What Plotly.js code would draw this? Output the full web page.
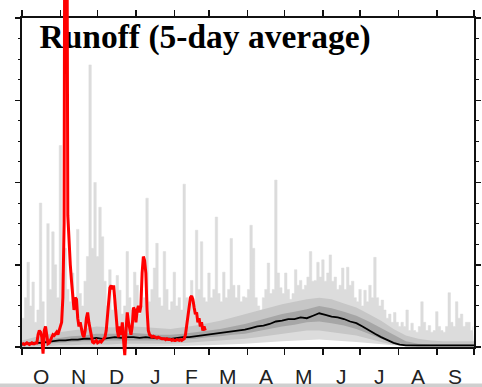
<!DOCTYPE html>
<html><head><meta charset="utf-8">
<script src="https://cdn.plot.ly/plotly-3.0.1.min.js"></script>
<style>html,body{margin:0;padding:0;background:#fff;}#chart{width:482px;height:387px;}</style>
</head><body><div id="chart"></div>
<script>
// ---- data (day index counted from 1 October) ----
const monthStarts = [0,31,61,92,123,151,182,212,243,273,304,335,365];
const monthLabels = ['O','N','D','J','F','M','A','M','J','J','A','S'];
const titleText = 'Runoff (5-day average)';

// daily maximum over all years, sampled every 2 days
const maxStep = 2;
const grayMax = [0.35,0.6,1.03,0.5,0.79,0.3,0.45,1.75,0.55,0.25,
 1.5,0.7,1.4,1.0,0.6,2.45,0.9,1.2,0.7,0.55,
 0.9,0.6,1.43,0.65,0.5,0.8,1.1,3.43,1.2,2.0,
 1.1,1.7,1.34,0.8,0.5,0.94,0.45,0.55,0.87,0.69,
 0.4,0.5,1.16,0.6,0.45,0.91,0.75,0.4,0.5,0.6,
 1.81,0.55,0.7,0.96,1.26,0.6,0.5,1.16,0.7,0.45,
 0.55,0.91,0.5,0.6,0.45,1.98,0.6,0.5,0.81,0.55,
 1.42,0.7,1.28,0.6,0.55,0.9,0.6,0.7,1.58,0.65,
 0.55,0.91,0.6,0.7,1.32,0.75,0.6,0.75,0.55,0.61,
 0.6,0.7,1.48,1.2,0.6,0.5,0.45,0.6,0.7,1.02,
 0.65,0.7,2.03,0.9,0.72,0.65,0.9,0.7,0.58,0.65,
 0.94,0.75,0.81,0.7,0.75,0.85,1.16,0.8,0.81,1.03,
 0.85,1.06,0.8,0.9,1.12,0.8,0.85,0.7,0.75,0.96,
 0.7,0.97,0.75,0.8,0.6,0.55,0.7,0.5,0.69,0.55,
 0.75,0.6,1.09,0.6,0.5,0.57,0.45,0.35,0.4,0.3,
 0.42,0.3,0.25,0.3,0.25,0.45,0.2,0.29,0.2,0.18,
 0.25,0.55,0.3,0.2,0.26,0.18,0.2,0.43,0.25,0.2,
 0.18,0.25,0.66,0.3,0.25,0.55,0.35,0.4,0.25,0.3,
 0.3,0.2,0.25];

// daily minimum over all years
const minDays = [0,30,60,90,120,150,180,210,240,270,300,330,365];
const grayMin = [0,0,0,0,0.01,0.02,0.04,0.07,0.09,0.06,0.02,0,0];

// percentile bands, every 10 days (+ last day)
const bandDays = [0,10,20,30,40,50,60,70,80,90,100,110,120,130,140,150,160,170,180,190,200,210,220,230,240,250,260,270,280,290,300,310,320,330,340,350,360,365];
const p90 = [0.08,0.12,0.15,0.18,0.2,0.22,0.25,0.24,0.24,0.25,0.24,0.23,0.22,0.24,0.26,0.29,0.32,0.36,0.4,0.44,0.48,0.52,0.55,0.58,0.6,0.58,0.53,0.48,0.4,0.32,0.22,0.14,0.1,0.08,0.07,0.07,0.07,0.07];
const p10 = [0,0.01,0.01,0.02,0.02,0.03,0.03,0.03,0.04,0.04,0.04,0.04,0.04,0.05,0.06,0.07,0.08,0.09,0.1,0.12,0.14,0.16,0.18,0.2,0.2,0.18,0.16,0.14,0.1,0.06,0.03,0.01,0,0,0,0,0,0];
const p75 = [0.05,0.07,0.09,0.11,0.13,0.14,0.16,0.16,0.16,0.17,0.16,0.15,0.15,0.16,0.18,0.2,0.22,0.25,0.28,0.32,0.36,0.4,0.43,0.46,0.5,0.47,0.43,0.38,0.31,0.23,0.14,0.07,0.04,0.03,0.03,0.03,0.03,0.03];
const p25 = [0.02,0.03,0.04,0.05,0.06,0.07,0.07,0.08,0.08,0.08,0.08,0.08,0.08,0.09,0.1,0.12,0.13,0.15,0.16,0.19,0.22,0.25,0.27,0.3,0.31,0.29,0.26,0.22,0.16,0.1,0.05,0.02,0.01,0.01,0.01,0.01,0.01,0.01];

// median, every 5 days
const medStep = 5;
const median = [0.03,0.04,0.05,0.05,0.06,0.07,0.08,0.08,0.09,0.09,
 0.10,0.10,0.11,0.10,0.11,0.12,0.11,0.12,0.12,0.11,
 0.12,0.11,0.11,0.10,0.10,0.11,0.12,0.12,0.13,0.14,
 0.15,0.16,0.17,0.18,0.19,0.20,0.21,0.23,0.25,0.26,
 0.28,0.31,0.32,0.34,0.34,0.36,0.35,0.38,0.41,0.39,
 0.37,0.36,0.34,0.31,0.29,0.25,0.20,0.16,0.12,0.08,
 0.05,0.03,0.02,0.02,0.02,0.015,0.02,0.02,0.015,0.02,
 0.02,0.02,0.02,0.02];

// current year, daily
const current = [0.03,0.04,0.03,0.04,0.05,0.04,0.03,0.04,0.05,0.04,0.04,0.05,
 0.05,0.15,0.2,0.18,0.12,-0.08,0.2,0.25,0.12,
 0.04,0.05,0.08,0.12,0.15,0.14,0.16,0.18,0.15,0.2,0.22,0.3,0.6,
 1.5,9,7,1.6,1.2,1.0,0.8,0.6,0.45,
 0.6,0.58,0.35,0.25,0.3,0.2,0.15,0.12,0.2,0.35,0.42,0.3,0.2,0.1,0.06,
 0.05,0.06,0.08,0.05,0.06,0.07,0.06,0.08,0.1,
 0.12,0.2,0.35,0.5,0.72,0.75,0.7,0.75,0.55,0.3,0.2,0.12,
 0.25,0.15,0.3,0.08,-0.1,0.2,0.42,0.3,0.22,0.15,0.25,0.48,0.45,0.3,0.45,0.5,0.42,0.5,
 0.9,1.1,1.05,0.9,0.45,0.2,0.15,
 0.13,0.12,0.13,0.12,0.12,0.11,0.12,
 0.11,0.11,0.10,0.10,0.10,0.09,0.10,0.09,0.09,0.09,0.08,0.09,0.08,0.08,0.09,0.08,0.08,0.09,0.08,0.09,
 0.1,0.15,0.25,0.38,0.45,0.6,0.62,0.58,0.48,0.4,0.42,0.3,0.35,0.25,0.3,0.2,0.25,0.2];

// ---- geometry ----
const W = 482, H = 387, L = 22, R = 8, plotTop = 18, plotBottom = 347, labelMidPx = 376;
const yMax = 4, xMax = 365;
const plotW = W - L - R;
const pxPerUnit = (plotBottom - plotTop) / yMax;
const yDomain = [(H - plotBottom) / H, (H - plotTop) / H];
const y3Range = [-(H - plotBottom) / pxPerUnit, plotBottom / pxPerUnit];
const px2day = px => (px - L) / plotW * xMax;
const py2val = py => (plotBottom - py) / pxPerUnit;

const maxDays = grayMax.map((_, i) => i * maxStep);
const medDays = median.map((_, i) => i * medStep);
const curDays = current.map((_, i) => i);
const monthMid = monthLabels.map((_, i) => (monthStarts[i] + monthStarts[i + 1]) / 2);

const base = {showlegend: false, hoverinfo: 'skip'};
const traces = [
  Object.assign({x: minDays, y: grayMin, mode: 'lines', line: {width: 0, color: '#dcdcdc'}}, base),
  Object.assign({x: maxDays, y: grayMax, mode: 'lines', fill: 'tonexty', fillcolor: '#dcdcdc',
    line: {width: 0.5, color: '#dcdcdc', shape: 'hv'}}, base),
  Object.assign({x: bandDays, y: p10, mode: 'lines', line: {width: 0, color: '#c6c6c6'}}, base),
  Object.assign({x: bandDays, y: p90, mode: 'lines', fill: 'tonexty', fillcolor: '#c6c6c6',
    line: {width: 0, color: '#c6c6c6'}}, base),
  Object.assign({x: bandDays, y: p25, mode: 'lines', line: {width: 0, color: '#a6a6a6'}}, base),
  Object.assign({x: bandDays, y: p75, mode: 'lines', fill: 'tonexty', fillcolor: '#a6a6a6',
    line: {width: 0, color: '#a6a6a6'}}, base),
  Object.assign({x: medDays, y: median, mode: 'lines', line: {width: 1.8, color: '#000'}}, base),
  Object.assign({x: [px2day(39.5)], y: [py2val(39.5)], mode: 'text', text: [titleText],
    textposition: 'middle right',
    textfont: {family: 'Liberation Serif', size: 33.5, weight: 'bold', color: '#000'}}, base),
  Object.assign({x: curDays, y: current, yaxis: 'y3', mode: 'lines',
    line: {width: 3, color: '#ff0000'}}, base)
];

const annotations = monthLabels.map((lab, i) => ({
  x: monthMid[i], xref: 'x', y: (H - labelMidPx) / H, yref: 'paper',
  text: lab, showarrow: false, xanchor: 'center', yanchor: 'middle',
  font: {family: 'Liberation Sans', size: 21, color: '#222'}
}));

const axisLine = {showline: true, linecolor: '#111', linewidth: 2, showgrid: false, zeroline: false, fixedrange: true};
const layout = {
  width: W, height: H,
  margin: {l: L, r: R, t: 0, b: 0, pad: 0},
  paper_bgcolor: '#fff', plot_bgcolor: 'rgba(0,0,0,0)',
  xaxis: Object.assign({}, axisLine, {range: [0, xMax], domain: [0, 1], anchor: 'y',
    tickmode: 'array', tickvals: monthStarts, ticks: 'outside', ticklen: 6, tickwidth: 1.5, tickcolor: '#111',
    mirror: 'ticks', showticklabels: false, automargin: false}),
  yaxis: Object.assign({}, axisLine, {range: [0, yMax], domain: yDomain, anchor: 'x',
    tickmode: 'linear', tick0: 0, dtick: 1, ticks: 'outside', ticklen: 5, tickwidth: 1.5, tickcolor: '#111',
    mirror: 'ticks', showticklabels: false, automargin: false,
    minor: {dtick: 0.25, ticks: 'outside', ticklen: 2.5, tickwidth: 1, tickcolor: '#111'}}),
  yaxis3: {range: y3Range, domain: [0, 1], anchor: 'x', visible: false, fixedrange: true},
  annotations: annotations,
  shapes: [{type: 'rect', xref: 'paper', yref: 'paper', x0: -L / plotW, x1: 1 + R / plotW,
    y0: 0, y1: 3.5 / H, fillcolor: '#cfcfcf', line: {width: 0}, layer: 'below'}]
};
Plotly.newPlot('chart', traces, layout, {displayModeBar: false, staticPlot: true});
</script></body></html>
